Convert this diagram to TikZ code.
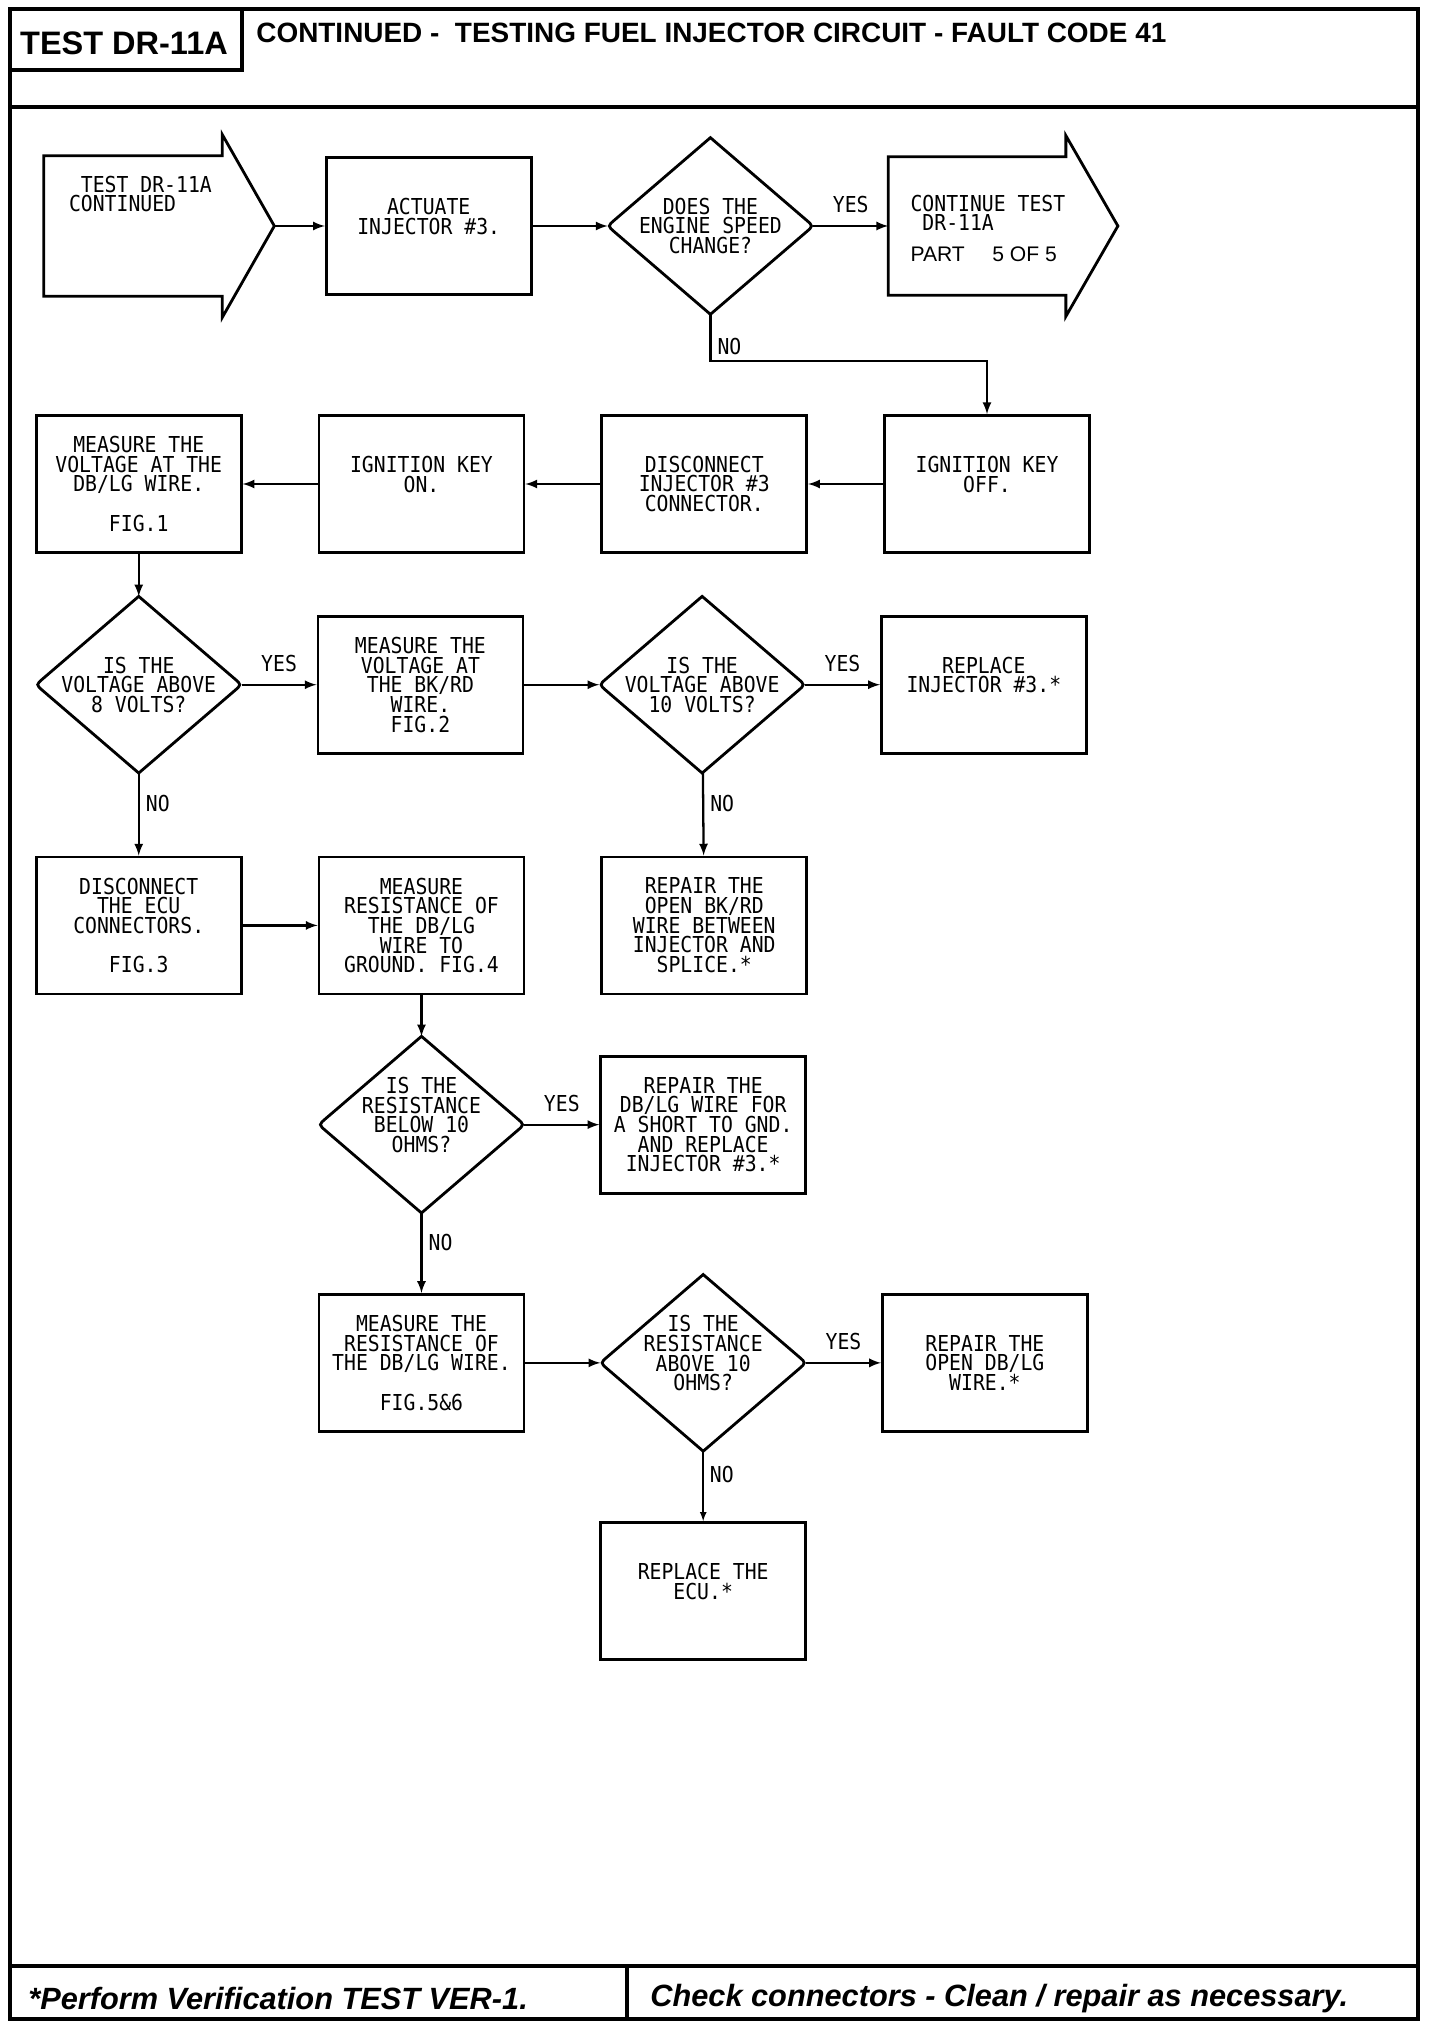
\documentclass[tikz,border=0pt]{standalone}
\usepackage{fontspec}
\usepackage{tikz}
\usetikzlibrary{arrows}
\usetikzlibrary{positioning}
\usetikzlibrary{calc}
\tikzset{>=latex}
\newfontfamily\plotfont[FakeStretch=0.9]{DejaVu Sans Mono}
\newfontfamily\headfont{Liberation Sans}
\newcommand{\plottext}{\plotfont\fontsize{12.5}{11.2}\selectfont}
\tikzset{
  stepbox/.style={draw, line width=1.6pt, minimum width=4.1cm, minimum height=2.74cm, inner sep=0pt, align=center, font=\plottext},
  decision/.style={minimum width=4.1cm, minimum height=3.52cm, inner sep=0pt, align=center, font=\plottext},
  flow/.style={->, line width=1.3pt},
  answer/.style={inner sep=0pt, font=\plottext},
  frame/.style={line width=1.8pt},
}

\begin{document}
\begin{tikzpicture}[x=0.02cm, y=-0.02cm]
        \useasboundingbox (0,0) rectangle (1440,2030);
        % page frame, title and footer
        \draw [frame] (10,9) rectangle (1418,2019);
        \draw [frame] (10,107) -- (1418,107);
        \draw [frame] (242,9) -- (242,70) -- (10,70);
        \draw [frame] (10,1966) -- (1418,1966);
        \draw [frame] (627,1966) -- (627,2019);
        \node [anchor=base, inner sep=0pt, font=\headfont\bfseries\fontsize{18.5}{20}\selectfont] (Title) at (124,55) {TEST DR-11A};
        \node [anchor=base west, inner sep=0pt, font=\headfont\bfseries\fontsize{15.9}{18}\selectfont] (Header) at (256,43) {CONTINUED -\ \ TESTING FUEL INJECTOR CIRCUIT - FAULT CODE 41};
        \node [anchor=base west, inner sep=0pt, font=\headfont\bfseries\itshape\fontsize{17.5}{20}\selectfont] (Verify) at (28,2009) {*Perform Verification TEST VER-1.};
        \node [anchor=base west, inner sep=0pt, font=\headfont\bfseries\itshape\fontsize{17.5}{20}\selectfont] (CheckNote) at (650,2006) {Check connectors - Clean / repair as necessary.};

        % first row
        \node [minimum width=3.56cm, minimum height=2.8cm] (Start) at (133,226) {};
        \draw [line width=1.6pt] (Start.north west) -- (Start.north east) -- ([yshift=0.42cm]Start.north east) -- ([xshift=1.04cm]Start.east) coordinate (StartTip) -- ([yshift=-0.42cm]Start.south east) -- (Start.south east) -- (Start.south west) -- cycle;
        \node [answer, anchor=north west, align=left] (StartText) at ([xshift=0.5cm, yshift=-0.4cm]Start.north west) {\phantom{X}TEST DR-11A\\CONTINUED};
        \node [stepbox, right=2.05cm of Start] (Actuate) {ACTUATE\\INJECTOR \#3.\\\mbox{}};
        \node [decision, right=1.5cm of Actuate] (SpeedCheck) {DOES THE\\ENGINE SPEED\\CHANGE?};
        \node [minimum width=3.54cm, minimum height=2.76cm, right=1.5cm of SpeedCheck] (Continue) {};
        \draw [line width=1.6pt] (Continue.north west) -- (Continue.north east) -- ([yshift=0.42cm]Continue.north east) -- ([xshift=1.04cm]Continue.east) -- ([yshift=-0.42cm]Continue.south east) -- (Continue.south east) -- (Continue.south west) -- cycle;
        \node [answer, anchor=north west, align=left] (ContinueText) at ([xshift=0.44cm, yshift=-0.76cm]Continue.north west) {CONTINUE TEST\\\phantom{X}DR-11A};
        \node [anchor=north west, inner sep=0pt, font=\headfont\fontsize{12}{14}\selectfont] (PartText) at ([xshift=0.44cm, yshift=-1.8cm]Continue.north west) {PART\hspace{0.55cm}5 OF 5};
        \draw [flow] (StartTip) -- (Actuate);
        \draw [flow] (Actuate) -- (SpeedCheck);
        \draw [flow] (SpeedCheck) -- node [answer, above=0.24cm] {YES} (Continue);

        % second row, right to left
        \node [stepbox] (KeyOff) at (987,484) {IGNITION KEY\\OFF.\\\mbox{}};
        \node [stepbox, left=1.5cm of KeyOff] (DiscInjector) {DISCONNECT\\INJECTOR \#3\\CONNECTOR.};
        \node [stepbox, left=1.5cm of DiscInjector] (KeyOn) {IGNITION KEY\\ON.\\\mbox{}};
        \node [stepbox, left=1.5cm of KeyOn] (MeasureDB) {MEASURE THE\\VOLTAGE AT THE\\DB/LG WIRE.\\[11.2pt]FIG.1};
        \draw [flow] (SpeedCheck.south) -- node [answer, right=0.12cm, pos=0.68] {NO} ++(0,47) -| (KeyOff.north);
        \draw [flow] (KeyOff) -- (DiscInjector);
        \draw [flow] (DiscInjector) -- (KeyOn);
        \draw [flow] (KeyOn) -- (MeasureDB);

        % third row
        \node [decision, below=0.85cm of MeasureDB] (VoltCheckA) {IS THE\\VOLTAGE ABOVE\\8 VOLTS?};
        \node [stepbox, right=1.5cm of VoltCheckA] (MeasureBK) {MEASURE THE\\VOLTAGE AT\\THE BK/RD\\WIRE.\\FIG.2};
        \node [decision, right=1.5cm of MeasureBK] (VoltCheckB) {IS THE\\VOLTAGE ABOVE\\10 VOLTS?};
        \node [stepbox, right=1.5cm of VoltCheckB] (ReplaceInjector) {REPLACE\\INJECTOR \#3.*\\\mbox{}};
        \draw [flow] (MeasureDB) -- (VoltCheckA);
        \draw [flow] (VoltCheckA) -- node [answer, above=0.24cm] {YES} (MeasureBK);
        \draw [flow] (MeasureBK) -- (VoltCheckB);
        \draw [flow] (VoltCheckB) -- node [answer, above=0.24cm] {YES} (ReplaceInjector);

        % fourth row
        \node [stepbox, below=1.65cm of VoltCheckA] (DiscECU) {DISCONNECT\\THE ECU\\CONNECTORS.\\[11.2pt]FIG.3};
        \node [stepbox, right=1.5cm of DiscECU] (MeasureGround) {MEASURE\\RESISTANCE OF\\THE DB/LG\\WIRE TO\\GROUND. FIG.4};
        \node [stepbox, right=1.5cm of MeasureGround] (RepairBK) {REPAIR THE\\OPEN BK/RD\\WIRE BETWEEN\\INJECTOR AND\\SPLICE.*};
        \draw [flow] (VoltCheckA) -- node [answer, right=0.12cm, pos=0.37] {NO} (DiscECU);
        \draw [flow] (VoltCheckB) -- node [answer, right=0.12cm, pos=0.37] {NO} (RepairBK);
        \draw [flow] (DiscECU) -- (MeasureGround);

        % fifth row
        \node [decision, below=0.82cm of MeasureGround] (ResCheckA) {IS THE\\RESISTANCE\\BELOW 10\\OHMS?\\\mbox{}};
        \node [stepbox, right=1.5cm of ResCheckA] (RepairShort) {REPAIR THE\\DB/LG WIRE FOR\\A SHORT TO GND.\\AND REPLACE\\INJECTOR \#3.*};
        \draw [flow] (MeasureGround) -- (ResCheckA);
        \draw [flow] (ResCheckA) -- node [answer, above=0.24cm] {YES} (RepairShort);

        % sixth and last rows
        \node [stepbox, below=1.6cm of ResCheckA] (MeasureRes) {MEASURE THE\\RESISTANCE OF\\THE DB/LG WIRE.\\[11.2pt]FIG.5\&6};
        \node [decision, right=1.5cm of MeasureRes] (ResCheckB) {IS THE\\RESISTANCE\\ABOVE 10\\OHMS?\\\mbox{}};
        \node [stepbox, right=1.5cm of ResCheckB] (RepairOpen) {REPAIR THE\\OPEN DB/LG\\WIRE.*};
        \node [stepbox, below=1.4cm of ResCheckB] (ReplaceECU) {REPLACE THE\\ECU.*\\\mbox{}};
        \draw [flow] (ResCheckA) -- node [answer, right=0.12cm, pos=0.37] {NO} (MeasureRes);
        \draw [flow] (MeasureRes) -- (ResCheckB);
        \draw [flow] (ResCheckB) -- node [answer, above=0.24cm] {YES} (RepairOpen);
        \draw [flow, line width=0.8pt] (ResCheckB) -- node [answer, right=0.12cm, pos=0.33] {NO} (ReplaceECU);

        % decision outlines, sharp at top and bottom, rounded at the sides
        \foreach \q in {SpeedCheck,VoltCheckA,VoltCheckB,ResCheckA,ResCheckB}
          \draw [line width=1.6pt] (\q.north) -- ($(\q.east)!0.07!(\q.north)$) .. controls (\q.east) .. ($(\q.east)!0.07!(\q.south)$) -- (\q.south) -- ($(\q.west)!0.07!(\q.south)$) .. controls (\q.west) .. ($(\q.west)!0.07!(\q.north)$) -- cycle;
    \end{tikzpicture}
\end{document}
